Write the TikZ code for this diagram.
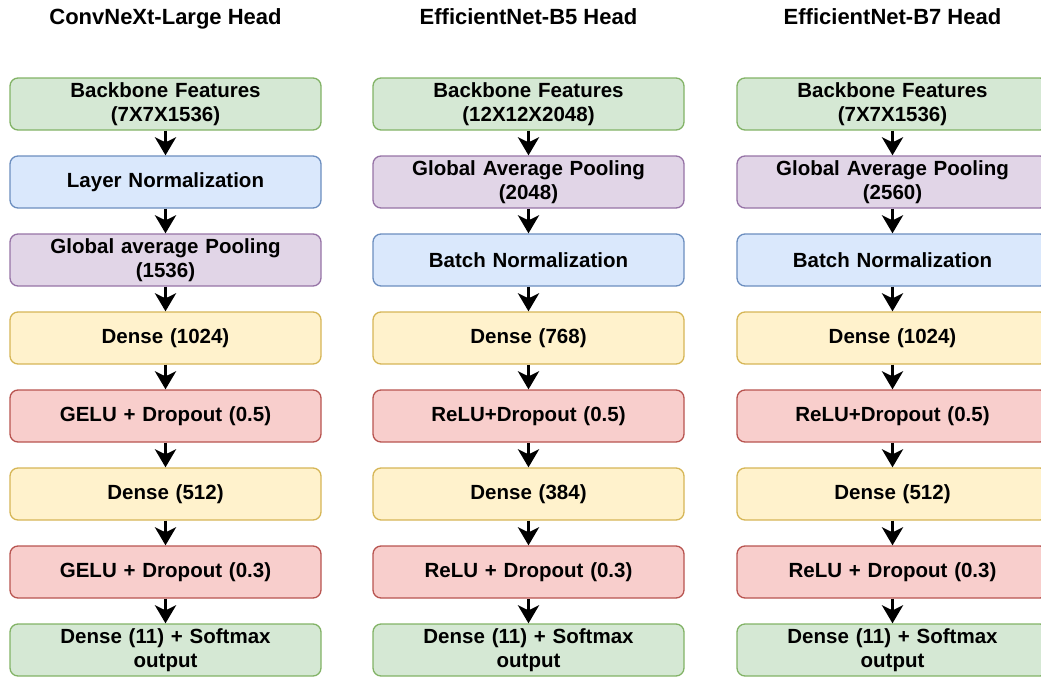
\documentclass[tikz,border=0pt]{standalone}
\usepackage{fontspec}
\setmainfont{Liberation Sans}
\usetikzlibrary{arrows.meta}

\definecolor{gfill}{HTML}{D5E8D4}\definecolor{gline}{HTML}{82B366}
\definecolor{bfill}{HTML}{DAE8FC}\definecolor{bline}{HTML}{6C8EBF}
\definecolor{pfill}{HTML}{E1D5E7}\definecolor{pline}{HTML}{9673A6}
\definecolor{yfill}{HTML}{FFF2CC}\definecolor{yline}{HTML}{D6B656}
\definecolor{rfill}{HTML}{F8CECC}\definecolor{rline}{HTML}{B85450}

\tikzset{
  layer/.style={rectangle, rounded corners=8pt, line width=1.3pt,
    minimum width=311pt, minimum height=52pt, inner sep=0pt,
    text width=305pt, align=center,
    font=\fontsize{20.5}{24.5}\selectfont\bfseries},
  grn/.style={layer, fill=gfill, draw=gline},
  blu/.style={layer, fill=bfill, draw=bline},
  pur/.style={layer, fill=pfill, draw=pline},
  yel/.style={layer, fill=yfill, draw=yline},
  red/.style={layer, fill=rfill, draw=rline},
  heading/.style={font=\fontsize{22}{24}\selectfont\bfseries},
  flow/.style={line width=3.5pt, -{Stealth[length=18pt,width=21pt,inset=5pt]}}
}

\begin{document}
\begin{tikzpicture}[x=1pt,y=-1pt]
\useasboundingbox (0,0) rectangle (1041,677);
\clip (0,0) rectangle (1041,677);

% column headings
\node[heading] (t1) at (165.5,19) {ConvNeXt-Large Head};
\node[heading] (t2) at (528.5,17) {EfficientNet-B5 Head};
\node[heading] (t3) at (892.5,17) {EfficientNet-B7 Head};

% ConvNeXt-Large head
\node[grn] (a1) at (165.5,104) {Backbone Features\\(7X7X1536)};
\node[blu] (a2) at (165.5,182) {Layer Normalization};
\node[pur] (a3) at (165.5,260) {Global average Pooling\\(1536)};
\node[yel] (a4) at (165.5,338) {Dense (1024)};
\node[red] (a5) at (165.5,416) {GELU + Dropout (0.5)};
\node[yel] (a6) at (165.5,494) {Dense (512)};
\node[red] (a7) at (165.5,572) {GELU + Dropout (0.3)};
\node[grn] (a8) at (165.5,650) {Dense (11) + Softmax\\output};

% EfficientNet-B5 head
\node[grn] (b1) at (528.5,104) {Backbone Features\\(12X12X2048)};
\node[pur] (b2) at (528.5,182) {Global Average Pooling\\(2048)};
\node[blu] (b3) at (528.5,260) {Batch Normalization};
\node[yel] (b4) at (528.5,338) {Dense (768)};
\node[red] (b5) at (528.5,416) {ReLU+Dropout (0.5)};
\node[yel] (b6) at (528.5,494) {Dense (384)};
\node[red] (b7) at (528.5,572) {ReLU + Dropout (0.3)};
\node[grn] (b8) at (528.5,650) {Dense (11) + Softmax\\output};

% EfficientNet-B7 head
\node[grn] (c1) at (892.5,104) {Backbone Features\\(7X7X1536)};
\node[pur] (c2) at (892.5,182) {Global Average Pooling\\(2560)};
\node[blu] (c3) at (892.5,260) {Batch Normalization};
\node[yel] (c4) at (892.5,338) {Dense (1024)};
\node[red] (c5) at (892.5,416) {ReLU+Dropout (0.5)};
\node[yel] (c6) at (892.5,494) {Dense (512)};
\node[red] (c7) at (892.5,572) {ReLU + Dropout (0.3)};
\node[grn] (c8) at (892.5,650) {Dense (11) + Softmax\\output};

% connectors
\foreach \col in {a,b,c}{
  \foreach \i [evaluate=\i as \j using int(\i+1)] in {1,...,7}{
    \draw[flow] (\col\i.south) -- (\col\j.north);
  }
}
\end{tikzpicture}
\end{document}
